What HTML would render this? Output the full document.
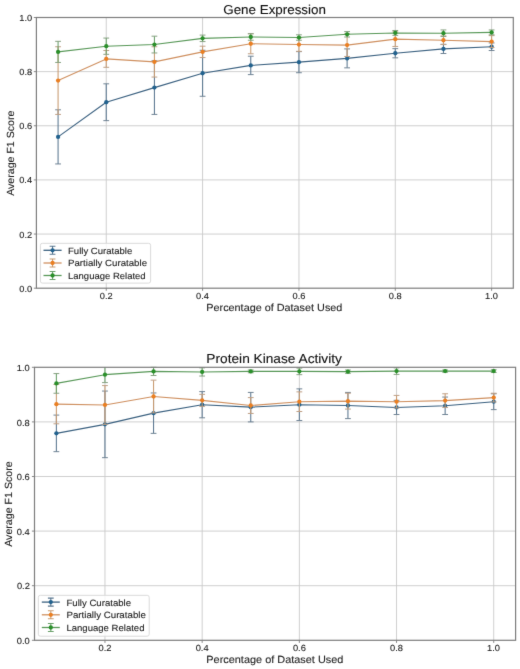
<!DOCTYPE html>
<html><head><meta charset="utf-8"><style>
html,body{margin:0;padding:0;background:#fff;}
body{width:520px;height:669px;overflow:hidden;}
svg{display:block;will-change:transform;}
text{font-family:"Liberation Sans",sans-serif;text-rendering:geometricPrecision;stroke-width:0.1px;}
</style></head><body>
<svg width="520" height="669" viewBox="0 0 520 669">
<defs><filter id="soft" x="0" y="0" width="520" height="669" filterUnits="userSpaceOnUse" color-interpolation-filters="sRGB"><feConvolveMatrix order="3" kernelMatrix="1 10 1 10 100 10 1 10 1" edgeMode="duplicate" preserveAlpha="true"/></filter></defs>
<g filter="url(#soft)">
<rect width="520" height="669" fill="#fff"/>
<path d="M106.25 17.50V288.20M202.59 17.50V288.20M298.94 17.50V288.20M395.28 17.50V288.20M491.62 17.50V288.20M36.40 234.06H513.30M36.40 179.92H513.30M36.40 125.78H513.30M36.40 71.64H513.30" stroke="#cacaca" stroke-width="0.9" fill="none"/>
<path d="M58.08 109.81V163.95M106.25 83.82V120.64M154.42 60.81V114.41M202.59 50.25V96.27M250.76 56.21V74.62M298.94 51.61V72.72M347.11 48.90V67.85M395.28 48.63V57.83M443.45 44.30V53.50M491.62 42.95V50.53" stroke="#5a7790" stroke-width="1.05" fill="none"/>
<path d="M55.18 109.81H60.98M55.18 163.95H60.98M103.35 83.82H109.15M103.35 120.64H109.15M151.52 60.81H157.32M151.52 114.41H157.32M199.69 50.25H205.49M199.69 96.27H205.49M247.86 56.21H253.66M247.86 74.62H253.66M296.04 51.61H301.84M296.04 72.72H301.84M344.21 48.90H350.01M344.21 67.85H350.01M392.38 48.63H398.18M392.38 57.83H398.18M440.55 44.30H446.35M440.55 53.50H446.35M488.72 42.95H494.52M488.72 50.53H494.52" stroke="#6f8394" stroke-width="1.0" fill="none"/>
<polyline points="58.08,136.88 106.25,102.23 154.42,87.61 202.59,73.26 250.76,65.41 298.94,62.17 347.11,58.38 395.28,53.23 443.45,48.90 491.62,46.74" stroke="#3b6180" stroke-width="1.1" fill="none" stroke-linejoin="round"/>
<circle cx="58.08" cy="136.88" r="2.15" fill="#22628e"/>
<circle cx="106.25" cy="102.23" r="2.15" fill="#22628e"/>
<circle cx="154.42" cy="87.61" r="2.15" fill="#22628e"/>
<circle cx="202.59" cy="73.26" r="2.15" fill="#22628e"/>
<circle cx="250.76" cy="65.41" r="2.15" fill="#22628e"/>
<circle cx="298.94" cy="62.17" r="2.15" fill="#22628e"/>
<circle cx="347.11" cy="58.38" r="2.15" fill="#22628e"/>
<circle cx="395.28" cy="53.23" r="2.15" fill="#22628e"/>
<circle cx="443.45" cy="48.90" r="2.15" fill="#22628e"/>
<circle cx="491.62" cy="46.74" r="2.15" fill="#22628e"/>
<path d="M58.08 46.74V114.41M106.25 50.53V67.31M154.42 46.74V77.05M202.59 46.19V57.56M250.76 33.74V53.77M298.94 37.80V51.34M347.11 33.74V56.48M395.28 31.85V46.46M443.45 35.91V44.57M491.62 35.64V47.55" stroke="#c89a70" stroke-width="1.05" fill="none"/>
<path d="M55.18 46.74H60.98M55.18 114.41H60.98M103.35 50.53H109.15M103.35 67.31H109.15M151.52 46.74H157.32M151.52 77.05H157.32M199.69 46.19H205.49M199.69 57.56H205.49M247.86 33.74H253.66M247.86 53.77H253.66M296.04 37.80H301.84M296.04 51.34H301.84M344.21 33.74H350.01M344.21 56.48H350.01M392.38 31.85H398.18M392.38 46.46H398.18M440.55 35.91H446.35M440.55 44.57H446.35M488.72 35.64H494.52M488.72 47.55H494.52" stroke="#bf9f84" stroke-width="1.0" fill="none"/>
<polyline points="58.08,80.57 106.25,58.92 154.42,61.89 202.59,51.88 250.76,43.76 298.94,44.57 347.11,45.11 395.28,39.16 443.45,40.24 491.62,41.59" stroke="#cf9060" stroke-width="1.1" fill="none" stroke-linejoin="round"/>
<circle cx="58.08" cy="80.57" r="2.15" fill="#ea7f22"/>
<circle cx="106.25" cy="58.92" r="2.15" fill="#ea7f22"/>
<circle cx="154.42" cy="61.89" r="2.15" fill="#ea7f22"/>
<circle cx="202.59" cy="51.88" r="2.15" fill="#ea7f22"/>
<circle cx="250.76" cy="43.76" r="2.15" fill="#ea7f22"/>
<circle cx="298.94" cy="44.57" r="2.15" fill="#ea7f22"/>
<circle cx="347.11" cy="45.11" r="2.15" fill="#ea7f22"/>
<circle cx="395.28" cy="39.16" r="2.15" fill="#ea7f22"/>
<circle cx="443.45" cy="40.24" r="2.15" fill="#ea7f22"/>
<circle cx="491.62" cy="41.59" r="2.15" fill="#ea7f22"/>
<path d="M58.08 41.32V62.44M106.25 38.07V54.32M154.42 36.18V52.96M202.59 35.10V41.59M250.76 33.74V40.24M298.94 34.82V40.24M347.11 31.58V36.99M395.28 30.49V35.37M443.45 29.95V36.45M491.62 29.95V34.82" stroke="#69a069" stroke-width="1.05" fill="none"/>
<path d="M55.18 41.32H60.98M55.18 62.44H60.98M103.35 38.07H109.15M103.35 54.32H109.15M151.52 36.18H157.32M151.52 52.96H157.32M199.69 35.10H205.49M199.69 41.59H205.49M247.86 33.74H253.66M247.86 40.24H253.66M296.04 34.82H301.84M296.04 40.24H301.84M344.21 31.58H350.01M344.21 36.99H350.01M392.38 30.49H398.18M392.38 35.37H398.18M440.55 29.95H446.35M440.55 36.45H446.35M488.72 29.95H494.52M488.72 34.82H494.52" stroke="#86a080" stroke-width="1.0" fill="none"/>
<polyline points="58.08,51.88 106.25,46.19 154.42,44.57 202.59,38.34 250.76,36.99 298.94,37.53 347.11,34.28 395.28,32.93 443.45,33.20 491.62,32.39" stroke="#589858" stroke-width="1.1" fill="none" stroke-linejoin="round"/>
<circle cx="58.08" cy="51.88" r="2.15" fill="#2a8f2a"/>
<circle cx="106.25" cy="46.19" r="2.15" fill="#2a8f2a"/>
<circle cx="154.42" cy="44.57" r="2.15" fill="#2a8f2a"/>
<circle cx="202.59" cy="38.34" r="2.15" fill="#2a8f2a"/>
<circle cx="250.76" cy="36.99" r="2.15" fill="#2a8f2a"/>
<circle cx="298.94" cy="37.53" r="2.15" fill="#2a8f2a"/>
<circle cx="347.11" cy="34.28" r="2.15" fill="#2a8f2a"/>
<circle cx="395.28" cy="32.93" r="2.15" fill="#2a8f2a"/>
<circle cx="443.45" cy="33.20" r="2.15" fill="#2a8f2a"/>
<circle cx="491.62" cy="32.39" r="2.15" fill="#2a8f2a"/>
<rect x="36.40" y="17.50" width="476.90" height="270.70" fill="none" stroke="#7e7e7e" stroke-width="1.2"/>
<path d="M106.25 288.20v2.6M202.59 288.20v2.6M298.94 288.20v2.6M395.28 288.20v2.6M491.62 288.20v2.6M36.40 288.20h-2.6M36.40 234.06h-2.6M36.40 179.92h-2.6M36.40 125.78h-2.6M36.40 71.64h-2.6M36.40 17.50h-2.6" stroke="#7a7a7a" stroke-width="0.9"/>
<text transform="translate(99.85,299.16) scale(1.0600,1)" font-size="8.75" fill="#222" stroke="#222">0.2</text>
<text transform="translate(196.10,299.16) scale(1.0600,1)" font-size="8.75" fill="#222" stroke="#222">0.4</text>
<text transform="translate(292.51,299.16) scale(1.0600,1)" font-size="8.75" fill="#222" stroke="#222">0.6</text>
<text transform="translate(388.85,299.16) scale(1.0600,1)" font-size="8.75" fill="#222" stroke="#222">0.8</text>
<text transform="translate(485.00,299.16) scale(1.0600,1)" font-size="8.75" fill="#222" stroke="#222">1.0</text>
<text transform="translate(19.27,291.71) scale(1.0600,1)" font-size="8.75" fill="#222" stroke="#222">0.0</text>
<text transform="translate(19.37,237.57) scale(1.0600,1)" font-size="8.75" fill="#222" stroke="#222">0.2</text>
<text transform="translate(19.18,183.43) scale(1.0600,1)" font-size="8.75" fill="#222" stroke="#222">0.4</text>
<text transform="translate(19.31,129.29) scale(1.0600,1)" font-size="8.75" fill="#222" stroke="#222">0.6</text>
<text transform="translate(19.31,75.15) scale(1.0600,1)" font-size="8.75" fill="#222" stroke="#222">0.8</text>
<text transform="translate(19.27,21.01) scale(1.0600,1)" font-size="8.75" fill="#222" stroke="#222">1.0</text>
<text transform="translate(223.23,13.60) scale(1.0361,1)" font-size="12.93" fill="#111" stroke="#111">Gene Expression</text>
<text transform="translate(206.31,310.50) scale(1.0485,1)" font-size="10.33" fill="#222" stroke="#222">Percentage of Dataset Used</text>
<text transform="translate(14.10,195.82) rotate(-90) scale(1.0256,1)" font-size="10.33" fill="#222" stroke="#222">Average F1 Score</text>
<rect x="40.40" y="243.30" width="110.20" height="39.80" rx="2" fill="#fff" fill-opacity="0.8" stroke="#d6d6d6" stroke-width="0.9"/>
<path d="M43.50 250.30H61.60" stroke="#3b6180" stroke-width="1.3"/>
<path d="M52.55 246.30V254.30M49.65 246.30h5.8M49.65 254.30h5.8" stroke="#5a7790" stroke-width="1.1"/>
<circle cx="52.55" cy="250.30" r="2.15" fill="#22628e"/>
<text transform="translate(68.02,253.70) scale(1.0555,1)" font-size="9.06" fill="#222" stroke="#222">Fully Curatable</text>
<path d="M43.50 263.00H61.60" stroke="#cf9060" stroke-width="1.3"/>
<path d="M52.55 259.00V267.00M49.65 259.00h5.8M49.65 267.00h5.8" stroke="#c89a70" stroke-width="1.1"/>
<circle cx="52.55" cy="263.00" r="2.15" fill="#ea7f22"/>
<text transform="translate(68.01,266.40) scale(1.0690,1)" font-size="9.06" fill="#222" stroke="#222">Partially Curatable</text>
<path d="M43.50 275.50H61.60" stroke="#589858" stroke-width="1.3"/>
<path d="M52.55 271.50V279.50M49.65 271.50h5.8M49.65 279.50h5.8" stroke="#69a069" stroke-width="1.1"/>
<circle cx="52.55" cy="275.50" r="2.15" fill="#2a8f2a"/>
<text transform="translate(68.02,278.90) scale(1.0492,1)" font-size="9.06" fill="#222" stroke="#222">Language Related</text>
<path d="M104.96 367.30V640.30M202.16 367.30V640.30M299.35 367.30V640.30M396.54 367.30V640.30M493.73 367.30V640.30M34.50 585.70H515.60M34.50 531.10H515.60M34.50 476.50H515.60M34.50 421.90H515.60" stroke="#cacaca" stroke-width="0.9" fill="none"/>
<path d="M56.37 415.08V451.66M104.96 391.05V457.66M153.56 392.96V433.37M202.16 391.60V417.81M250.75 392.42V421.90M299.35 388.87V420.54M347.94 392.42V418.62M396.54 400.33V414.53M445.14 397.06V414.53M493.73 393.78V409.62" stroke="#5a7790" stroke-width="1.05" fill="none"/>
<path d="M53.47 415.08H59.27M53.47 451.66H59.27M102.06 391.05H107.86M102.06 457.66H107.86M150.66 392.96H156.46M150.66 433.37H156.46M199.26 391.60H205.06M199.26 417.81H205.06M247.85 392.42H253.65M247.85 421.90H253.65M296.45 388.87H302.25M296.45 420.54H302.25M345.04 392.42H350.84M345.04 418.62H350.84M393.64 400.33H399.44M393.64 414.53H399.44M442.24 397.06H448.04M442.24 414.53H448.04M490.83 393.78H496.63M490.83 409.62H496.63" stroke="#6f8394" stroke-width="1.0" fill="none"/>
<polyline points="56.37,433.37 104.96,424.36 153.56,413.16 202.16,404.70 250.75,407.16 299.35,404.70 347.94,405.52 396.54,407.43 445.14,405.79 493.73,401.70" stroke="#3b6180" stroke-width="1.1" fill="none" stroke-linejoin="round"/>
<circle cx="56.37" cy="433.37" r="2.15" fill="#22628e"/>
<circle cx="104.96" cy="424.36" r="2.15" fill="#22628e"/>
<circle cx="153.56" cy="413.16" r="2.15" fill="#22628e"/>
<circle cx="202.16" cy="404.70" r="2.15" fill="#22628e"/>
<circle cx="250.75" cy="407.16" r="2.15" fill="#22628e"/>
<circle cx="299.35" cy="404.70" r="2.15" fill="#22628e"/>
<circle cx="347.94" cy="405.52" r="2.15" fill="#22628e"/>
<circle cx="396.54" cy="407.43" r="2.15" fill="#22628e"/>
<circle cx="445.14" cy="405.79" r="2.15" fill="#22628e"/>
<circle cx="493.73" cy="401.70" r="2.15" fill="#22628e"/>
<path d="M56.37 384.50V423.81M104.96 385.59V424.36M153.56 380.13V412.89M202.16 394.33V406.34M250.75 397.60V413.44M299.35 391.87V411.53M347.94 393.24V409.07M396.54 395.42V407.98M445.14 393.78V407.43M493.73 393.24V401.97" stroke="#c89a70" stroke-width="1.05" fill="none"/>
<path d="M53.47 384.50H59.27M53.47 423.81H59.27M102.06 385.59H107.86M102.06 424.36H107.86M150.66 380.13H156.46M150.66 412.89H156.46M199.26 394.33H205.06M199.26 406.34H205.06M247.85 397.60H253.65M247.85 413.44H253.65M296.45 391.87H302.25M296.45 411.53H302.25M345.04 393.24H350.84M345.04 409.07H350.84M393.64 395.42H399.44M393.64 407.98H399.44M442.24 393.78H448.04M442.24 407.43H448.04M490.83 393.24H496.63M490.83 401.97H496.63" stroke="#bf9f84" stroke-width="1.0" fill="none"/>
<polyline points="56.37,404.15 104.96,404.97 153.56,396.51 202.16,400.33 250.75,405.52 299.35,401.70 347.94,401.15 396.54,401.70 445.14,400.61 493.73,397.60" stroke="#cf9060" stroke-width="1.1" fill="none" stroke-linejoin="round"/>
<circle cx="56.37" cy="404.15" r="2.15" fill="#ea7f22"/>
<circle cx="104.96" cy="404.97" r="2.15" fill="#ea7f22"/>
<circle cx="153.56" cy="396.51" r="2.15" fill="#ea7f22"/>
<circle cx="202.16" cy="400.33" r="2.15" fill="#ea7f22"/>
<circle cx="250.75" cy="405.52" r="2.15" fill="#ea7f22"/>
<circle cx="299.35" cy="401.70" r="2.15" fill="#ea7f22"/>
<circle cx="347.94" cy="401.15" r="2.15" fill="#ea7f22"/>
<circle cx="396.54" cy="401.70" r="2.15" fill="#ea7f22"/>
<circle cx="445.14" cy="400.61" r="2.15" fill="#ea7f22"/>
<circle cx="493.73" cy="397.60" r="2.15" fill="#ea7f22"/>
<path d="M56.37 373.58V393.24M104.96 367.30V382.59M153.56 367.30V375.49M202.16 367.85V376.04M250.75 370.03V372.76M299.35 368.12V374.67M347.94 370.03V373.31M396.54 367.85V374.40M445.14 370.03V372.21M493.73 369.76V372.49" stroke="#69a069" stroke-width="1.05" fill="none"/>
<path d="M53.47 373.58H59.27M53.47 393.24H59.27M102.06 382.59H107.86M150.66 367.30H156.46M150.66 375.49H156.46M199.26 367.85H205.06M199.26 376.04H205.06M247.85 370.03H253.65M247.85 372.76H253.65M296.45 368.12H302.25M296.45 374.67H302.25M345.04 370.03H350.84M345.04 373.31H350.84M393.64 367.85H399.44M393.64 374.40H399.44M442.24 370.03H448.04M442.24 372.21H448.04M490.83 369.76H496.63M490.83 372.49H496.63" stroke="#86a080" stroke-width="1.0" fill="none"/>
<polyline points="56.37,383.41 104.96,374.67 153.56,371.40 202.16,371.94 250.75,371.40 299.35,371.40 347.94,371.67 396.54,371.12 445.14,371.12 493.73,371.12" stroke="#589858" stroke-width="1.1" fill="none" stroke-linejoin="round"/>
<circle cx="56.37" cy="383.41" r="2.15" fill="#2a8f2a"/>
<circle cx="104.96" cy="374.67" r="2.15" fill="#2a8f2a"/>
<circle cx="153.56" cy="371.40" r="2.15" fill="#2a8f2a"/>
<circle cx="202.16" cy="371.94" r="2.15" fill="#2a8f2a"/>
<circle cx="250.75" cy="371.40" r="2.15" fill="#2a8f2a"/>
<circle cx="299.35" cy="371.40" r="2.15" fill="#2a8f2a"/>
<circle cx="347.94" cy="371.67" r="2.15" fill="#2a8f2a"/>
<circle cx="396.54" cy="371.12" r="2.15" fill="#2a8f2a"/>
<circle cx="445.14" cy="371.12" r="2.15" fill="#2a8f2a"/>
<circle cx="493.73" cy="371.12" r="2.15" fill="#2a8f2a"/>
<rect x="34.50" y="367.30" width="481.10" height="273.00" fill="none" stroke="#7e7e7e" stroke-width="1.2"/>
<path d="M104.96 640.30v2.6M202.16 640.30v2.6M299.35 640.30v2.6M396.54 640.30v2.6M493.73 640.30v2.6M34.50 640.30h-2.6M34.50 585.70h-2.6M34.50 531.10h-2.6M34.50 476.50h-2.6M34.50 421.90h-2.6M34.50 367.30h-2.6" stroke="#7a7a7a" stroke-width="0.9"/>
<text transform="translate(98.53,651.43) scale(1.0600,1)" font-size="8.80" fill="#222" stroke="#222">0.2</text>
<text transform="translate(195.63,651.43) scale(1.0600,1)" font-size="8.80" fill="#222" stroke="#222">0.4</text>
<text transform="translate(292.89,651.43) scale(1.0600,1)" font-size="8.80" fill="#222" stroke="#222">0.6</text>
<text transform="translate(390.08,651.43) scale(1.0600,1)" font-size="8.80" fill="#222" stroke="#222">0.8</text>
<text transform="translate(487.08,651.43) scale(1.0600,1)" font-size="8.80" fill="#222" stroke="#222">1.0</text>
<text transform="translate(16.80,644.03) scale(1.0600,1)" font-size="8.80" fill="#222" stroke="#222">0.0</text>
<text transform="translate(16.90,589.43) scale(1.0600,1)" font-size="8.80" fill="#222" stroke="#222">0.2</text>
<text transform="translate(16.71,534.83) scale(1.0600,1)" font-size="8.80" fill="#222" stroke="#222">0.4</text>
<text transform="translate(16.84,480.23) scale(1.0600,1)" font-size="8.80" fill="#222" stroke="#222">0.6</text>
<text transform="translate(16.84,425.63) scale(1.0600,1)" font-size="8.80" fill="#222" stroke="#222">0.8</text>
<text transform="translate(16.80,371.03) scale(1.0600,1)" font-size="8.80" fill="#222" stroke="#222">1.0</text>
<text transform="translate(206.37,363.10) scale(1.0524,1)" font-size="13.03" fill="#111" stroke="#111">Protein Kinase Activity</text>
<text transform="translate(206.30,662.90) scale(1.0517,1)" font-size="10.38" fill="#222" stroke="#222">Percentage of Dataset Used</text>
<text transform="translate(12.00,546.82) rotate(-90) scale(1.0251,1)" font-size="10.38" fill="#222" stroke="#222">Average F1 Score</text>
<rect x="38.30" y="595.30" width="110.90" height="40.90" rx="2" fill="#fff" fill-opacity="0.8" stroke="#d6d6d6" stroke-width="0.9"/>
<path d="M41.80 602.10H59.80" stroke="#3b6180" stroke-width="1.3"/>
<path d="M50.80 598.10V606.10M47.90 598.10h5.8M47.90 606.10h5.8" stroke="#5a7790" stroke-width="1.1"/>
<circle cx="50.80" cy="602.10" r="2.15" fill="#22628e"/>
<text transform="translate(66.41,605.50) scale(1.0577,1)" font-size="9.11" fill="#222" stroke="#222">Fully Curatable</text>
<path d="M41.80 614.80H59.80" stroke="#cf9060" stroke-width="1.3"/>
<path d="M50.80 610.80V618.80M47.90 610.80h5.8M47.90 618.80h5.8" stroke="#c89a70" stroke-width="1.1"/>
<circle cx="50.80" cy="614.80" r="2.15" fill="#ea7f22"/>
<text transform="translate(66.40,618.20) scale(1.0696,1)" font-size="9.11" fill="#222" stroke="#222">Partially Curatable</text>
<path d="M41.80 627.50H59.80" stroke="#589858" stroke-width="1.3"/>
<path d="M50.80 623.50V631.50M47.90 623.50h5.8M47.90 631.50h5.8" stroke="#69a069" stroke-width="1.1"/>
<circle cx="50.80" cy="627.50" r="2.15" fill="#2a8f2a"/>
<text transform="translate(66.42,630.90) scale(1.0499,1)" font-size="9.11" fill="#222" stroke="#222">Language Related</text>
</g>
</svg>
</body></html>
